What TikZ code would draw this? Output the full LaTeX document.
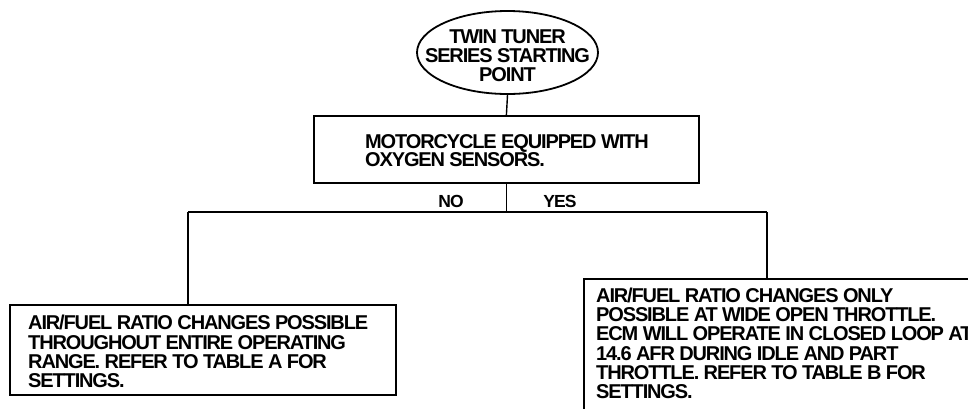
\documentclass[tikz,border=0pt]{standalone}
\usepackage{fontspec}
\setmainfont[LetterSpace=-5.7]{Liberation Sans}
\usetikzlibrary{shapes.geometric}
\tikzset{
  boxline/.style={draw=black, line width=1.8pt},
  conn/.style={draw=black, line width=1.4pt},
  txt/.style={inner sep=0pt, align=left, font=\fontsize{20}{19.3}\selectfont\bfseries},
  lbl/.style={inner sep=0pt, font=\fontsize{17.5}{18}\selectfont\bfseries},
}
\begin{document}
\begin{tikzpicture}[x=1pt,y=-1pt]
\useasboundingbox (0,0) rectangle (968,408);
\clip (0,0) rectangle (968,408);
% start ellipse
\node[boxline, ellipse, minimum width=181pt, minimum height=83pt, inner sep=0pt] (start) at (507.5,52.5) {};
\node[txt, align=center] (starttxt) at ([yshift=-3.4pt]start.center) {TWIN TUNER\\SERIES STARTING\\POINT};
% question box
\node[boxline, rectangle, minimum width=385pt, minimum height=67pt, anchor=north west, inner sep=0pt] (q) at (313,115) {};
\node[txt, font=\fontsize{20}{18.4}\selectfont\bfseries, anchor=north west] (qtxt) at (365,134.3) {MOTORCYCLE EQUIPPED WITH\\OXYGEN SENSORS.};
% left result box
\node[boxline, rectangle, minimum width=386pt, minimum height=90pt, anchor=north west, inner sep=0pt] (a) at (9,304) {};
\node[txt, anchor=north west] (atxt) at (28,315) {AIR/FUEL RATIO CHANGES POSSIBLE\\THROUGHOUT ENTIRE OPERATING\\RANGE. REFER TO TABLE A FOR\\SETTINGS.};
% right result box (runs off the page)
\node[boxline, rectangle, minimum width=420pt, minimum height=160pt, anchor=north west, inner sep=0pt] (b) at (583,278) {};
\node[txt, anchor=north west] (btxt) at (596,287.5) {AIR/FUEL RATIO CHANGES ONLY\\POSSIBLE AT WIDE OPEN THROTTLE.\\ECM WILL OPERATE IN CLOSED LOOP AT\\14.6 AFR DURING IDLE AND PART\\THROTTLE. REFER TO TABLE B FOR\\SETTINGS.};
% connectors
\coordinate (jl) at (188,212);
\coordinate (jr) at (767,212);
\coordinate (jm) at (q.south |- jl);
\draw[conn] (start.south) -- (q.north);
\draw[conn] (q.south) -- (jm);
\draw[conn] (jl) -- (jr);
\draw[conn] (jl) -- (jl |- a.north);
\draw[conn] (jr) -- (jr |- b.north);
% branch labels
\node[lbl, anchor=base] (no) at (451,207) {NO};
\node[lbl, anchor=base] (yes) at (560,207) {YES};
\end{tikzpicture}
\end{document}
